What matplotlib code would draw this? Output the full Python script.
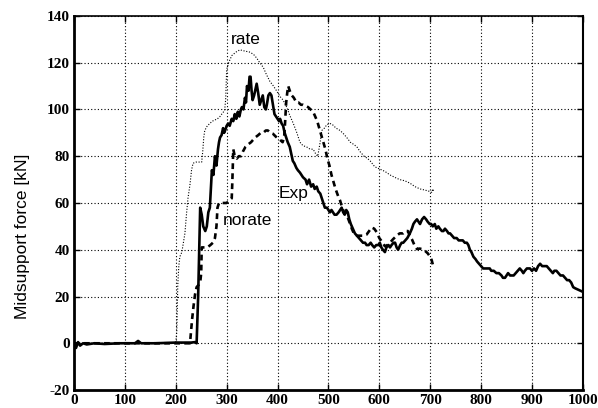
import numpy as np
import matplotlib
matplotlib.use("Agg")
import matplotlib.pyplot as plt

plt.rcParams["axes.unicode_minus"] = False

# Exp (solid, thick)
exp_x = [0, 4, 8, 12, 18, 25, 40, 60, 90, 120, 126, 132, 160, 200, 230, 238, 241, 244, 246, 248,
         251, 254, 258, 261, 264, 267, 269, 271, 274, 277, 280, 283, 285, 287, 290, 293, 295, 297,
         300, 303, 306, 310, 313, 316, 319, 322, 325, 328, 330, 333, 336, 338, 340, 343, 345, 347,
         349, 351, 354, 357, 359, 362, 365, 368, 371, 374, 377, 379, 382, 385, 388, 391, 394, 397,
         400, 403, 405, 408, 411, 414, 417, 420, 424, 427, 430, 433, 437, 440, 444, 447, 450, 455,
         458, 462, 466, 470, 473, 477, 480, 484, 487, 490, 493, 497, 500, 503, 506, 509, 512, 516,
         520, 523, 526, 529, 532, 535, 538, 541, 544, 548, 552, 556, 560, 564, 568, 572, 575, 579,
         583, 586, 590, 594, 598, 601, 604, 607, 611, 614, 618, 621, 624, 628, 631, 634, 637, 641,
         644, 647, 651, 655, 660, 664, 667, 670, 674, 677, 680, 684, 688, 692, 695, 699, 702, 705,
         709, 712, 716, 719, 723, 726, 729, 733, 736, 739, 743, 747, 752, 756, 760, 764, 768, 772,
         775, 778, 781, 785, 789, 792, 796, 800, 804, 808, 812, 817, 820, 825, 830, 835, 840, 843,
         847, 850, 853, 857, 860, 864, 868, 872, 876, 880, 883, 886, 890, 893, 896, 900, 904, 908,
         912, 916, 920, 924, 929, 933, 937, 941, 944, 948, 952, 956, 961, 965, 969, 973, 977, 981,
         985, 990, 995, 1000]
exp_y = [0, -2, 0.5, -1, 0, -0.5, 0, -0.3, 0, 0, 1, 0, 0, 0.3, 0.3, 0.5, 0, 20, 40, 58,
         55, 50, 48, 50, 56, 58, 66, 74, 72, 80, 76, 83, 86, 88, 89, 92, 90, 91,
         93, 94, 93, 96, 95, 98, 96, 99, 97, 100, 101, 100, 105, 103, 110, 108, 114, 114,
         108, 104, 106, 109, 111, 107, 102, 104, 106, 101, 100, 102, 106, 107, 106, 102, 98, 97,
         96, 95, 96, 94, 93, 90, 88, 86, 84, 81, 78, 77, 75, 74, 73, 72, 71, 70,
         68, 70, 67, 68, 66, 67, 65, 64, 62, 60, 58, 58, 57, 56, 57, 56, 55, 55,
         56, 57, 58, 56, 55, 57, 56, 53, 51, 49, 47, 46, 45, 44, 43, 43, 42, 42,
         43, 42, 41, 42, 42, 43, 41, 40, 39, 41, 42, 41, 42, 43, 43, 41, 40, 42,
         43, 43, 44, 45, 47, 49, 51, 52, 53, 52, 51, 53, 54, 53, 52, 51, 51, 50,
         51, 49, 50, 49, 48, 48, 49, 48, 47, 47, 46, 45, 45, 44, 44, 44, 43, 43,
         42, 40, 39, 37, 36, 35, 34, 33, 32, 32, 32, 32, 31, 31, 30, 30, 29, 28,
         28, 29, 30, 29, 29, 29, 30, 31, 32, 31, 30, 31, 32, 32, 32, 31, 32, 31,
         33, 34, 33, 33, 33, 32, 31, 30, 31, 31, 30, 29, 29, 28, 27, 27, 26, 24,
         23.5, 23, 22.5, 22]

# norate (dashed, thick)
norate_x = [0, 225, 228, 230, 232, 235, 238, 241, 245, 248, 250, 251, 256, 262, 268, 273, 277, 280,
            282, 285, 290, 295, 300, 305, 310, 311, 312, 313, 316, 320, 324, 328, 332, 337, 342,
            348, 352, 356, 362, 367, 372, 377, 381, 386, 391, 396, 401, 405, 410, 413, 415, 417,
            419, 421, 424, 428, 432, 437, 441, 446, 450, 455, 460, 465, 470, 474, 478, 482, 486,
            490, 494, 498, 502, 506, 510, 514, 519, 523, 527, 531, 536, 541, 546, 550, 556, 562,
            568, 575, 580, 585, 590, 595, 600, 605, 611, 616, 621, 627, 634, 640, 647, 652, 656,
            660, 664, 669, 674, 679, 684, 690, 695, 700, 703, 707]
norate_y = [0, 0, 0, 5, 10, 16, 21, 24, 25, 26, 30, 41, 41, 41, 42, 43, 45, 50,
            58, 60, 60, 60, 60, 61, 62, 68, 75, 83, 80, 79, 80, 80, 82, 84, 85,
            86, 87, 88, 89, 90, 90, 91, 91, 90, 89.6, 88.5, 87.5, 87, 86, 88, 95, 103,
            107, 110, 108, 106, 105, 103, 103, 102, 102, 101.5, 101, 100, 99, 97, 95, 92, 89,
            86, 83, 79, 76, 72, 69, 66, 63, 61, 58, 56, 55, 52, 49, 47, 46, 46,
            46, 46.5, 48, 49.5, 49, 47.5, 45, 43.5, 41.5, 42, 43, 44.5, 46, 47, 47, 48, 48,
            46, 44.5, 42, 40.3, 40.5, 40.3, 39.5, 38.5, 37, 35.5, 32]

# rate (dotted, thin)
rate_x = [0, 200, 202, 203, 204, 206, 208, 212, 215, 218, 221, 224, 228, 231, 234, 240, 246, 251,
          253, 255, 257, 262, 267, 272, 277, 282, 287, 292, 296, 298, 299, 300, 304, 310, 318,
          326, 335, 346, 353, 359, 365, 372, 378, 385, 392, 398, 405, 411, 418, 424, 431, 438,
          444, 450, 457, 464, 470, 475, 479, 483, 487, 492, 497, 503, 508, 515, 523, 530, 536,
          543, 550, 556, 562, 570, 577, 582, 591, 601, 611, 621, 630, 640, 650, 660, 670, 680,
          690, 698, 703, 705, 707]
rate_y = [0, 0, 5, 15, 25, 33, 37, 39, 43, 47, 55, 62, 68, 74, 77, 77.5, 77.5, 77.5,
          82, 88, 91, 93, 94, 95, 95.5, 96, 97, 98.5, 99.5, 104, 110, 117, 120, 123, 124.5,
          125.5, 125, 124.5, 123.5, 122, 120, 118, 115, 112, 110, 108, 105.5, 104, 101, 97.5, 94, 90,
          86, 84.5, 84, 83, 83, 81, 80, 85, 91, 92, 93.5, 94, 93.5, 92, 91, 89.5, 88,
          86, 85, 84, 82, 80, 79, 78, 75.5, 74.5, 73.5, 72, 71, 70, 69.5, 68.5, 67, 66,
          65.5, 65, 64.5, 66, 65]

xticks = np.arange(0, 1001, 100)
yticks = np.arange(-20, 141, 20)

fig = plt.figure(figsize=(5.98, 4.08), dpi=100)
ax = fig.add_axes([0.1237, 0.044, 0.851, 0.917])

ax.plot(rate_x, rate_y, color="black", linestyle=(0, (1, 1.5)), linewidth=0.8)
ax.plot(norate_x, norate_y, color="black", linestyle=(0, (2.2, 1.6)), linewidth=1.9)
ax.plot(exp_x, exp_y, color="black", linestyle="-", linewidth=1.9)

ax.text(338, 130, "rate", fontsize=12.5, family="Liberation Sans", ha="center", va="center")
ax.text(341, 52.5, "norate", fontsize=12.5, family="Liberation Sans", ha="center", va="center")
ax.text(432, 64, "Exp", fontsize=12.5, family="Liberation Sans", ha="center", va="center")

ax.set_xlim(0, 1000)
ax.set_ylim(-20, 140)
ax.set_xticks(xticks)
ax.set_yticks(yticks)
ax.grid(True, color="black", linestyle=(0, (1, 2)), linewidth=0.8)
ax.tick_params(direction="in", length=4, width=1, top=True, right=True, pad=3)
for lab in ax.get_xticklabels() + ax.get_yticklabels():
    lab.set_fontfamily("Liberation Serif")
    lab.set_fontweight("bold")
    lab.set_fontsize(11)

ax.spines["left"].set_linewidth(2)
ax.spines["bottom"].set_linewidth(2)
ax.spines["right"].set_linewidth(1.5)
ax.spines["top"].set_linewidth(1.2)

ax.set_ylabel("Midsupport force [kN]", fontsize=12.5, family="Liberation Sans")
ax.yaxis.set_label_coords(-0.087, 0.41)

fig.savefig("out.png", dpi=100)
